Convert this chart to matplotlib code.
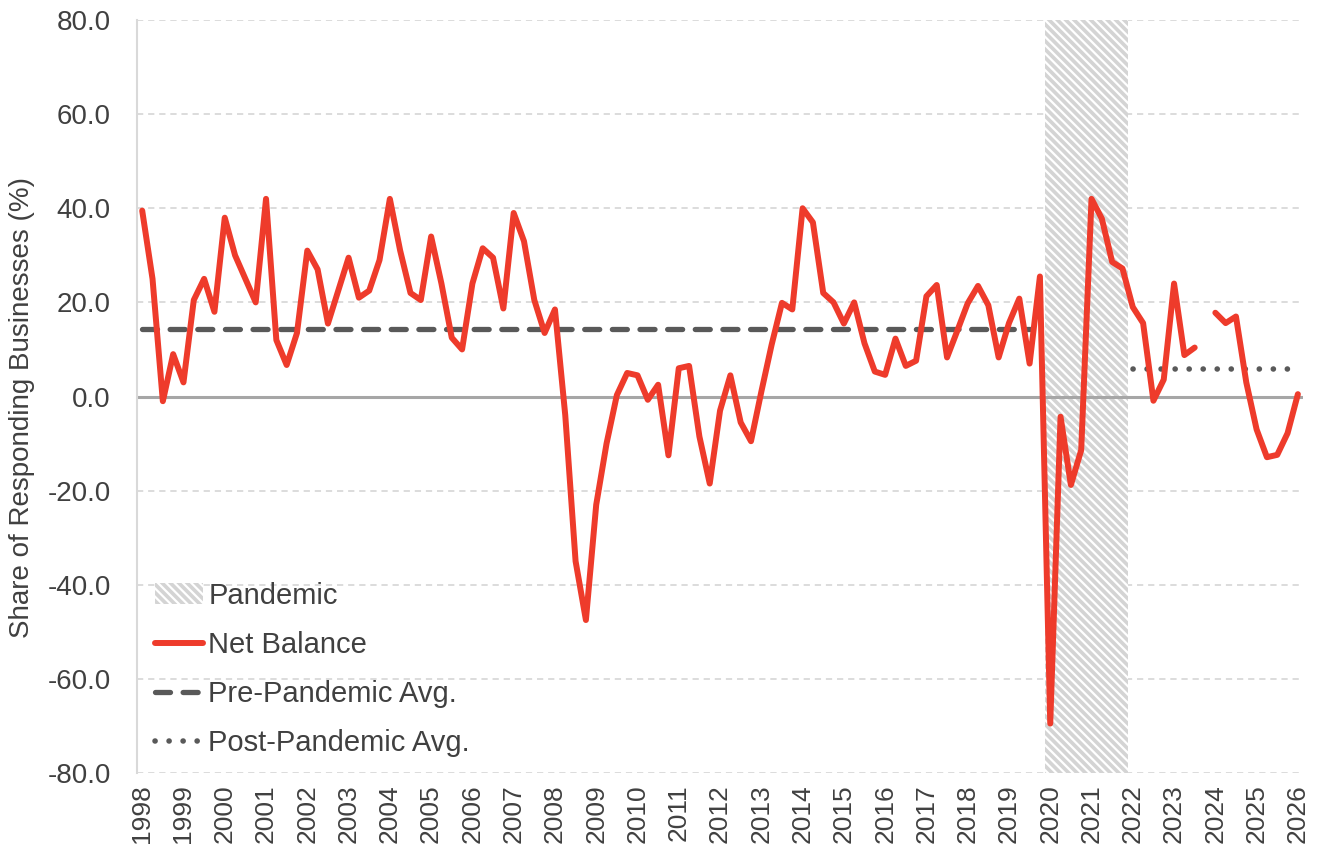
import numpy as np
import matplotlib.pyplot as plt
from matplotlib.patches import Patch
from matplotlib.lines import Line2D

plt.rcParams['font.family'] = ['Liberation Sans', 'DejaVu Sans']
plt.rcParams['hatch.linewidth'] = 1.6
plt.rcParams['lines.scale_dashes'] = False

# quarterly net balance, 1998Q1 - 2026Q1 (2023Q4 missing)
quarters = [f'{y}Q{q}' for y in range(1998, 2027) for q in range(1, 5)][:113]
net_balance = [
    39.5, 25.0, -1.0, 9.0, 3.0, 20.5, 25.0, 18.0,        # 1998-1999
    38.0, 30.0, 25.0, 20.0, 42.0, 12.0, 6.7, 13.5,       # 2000-2001
    31.0, 27.0, 15.5, 22.5, 29.5, 21.0, 22.5, 29.0,      # 2002-2003
    42.0, 31.0, 22.0, 20.5, 34.0, 24.0, 12.5, 10.0,      # 2004-2005
    24.0, 31.5, 29.5, 18.7, 39.0, 33.0, 20.5, 13.5,      # 2006-2007
    18.5, -4.0, -35.0, -47.5, -23.0, -10.0, 0.3, 5.0,    # 2008-2009
    4.5, -0.7, 2.5, -12.5, 6.0, 6.5, -8.5, -18.5,        # 2010-2011
    -3.0, 4.5, -5.5, -9.5, 1.0, 11.0, 19.9, 18.5,        # 2012-2013
    40.0, 37.0, 22.0, 20.0, 15.5, 20.0, 11.3, 5.3,       # 2014-2015
    4.6, 12.3, 6.5, 7.6, 21.3, 23.7, 8.3, 14.0,          # 2016-2017
    19.8, 23.5, 19.4, 8.3, 15.6, 20.8, 7.0, 25.5,        # 2018-2019
    -69.5, -4.3, -18.8, -11.4, 42.0, 37.8, 28.6, 27.2,   # 2020-2021
    19.0, 15.6, -0.9, 3.6, 24.0, 8.8, 10.4, np.nan,      # 2022-2023
    17.8, 15.6, 17.0, 3.0, -7.0, -12.9, -12.4, -7.8,     # 2024-2025
    0.5,                                                 # 2026
]
pre_pandemic_avg = 14.4
post_pandemic_avg = 5.8
pre_period = ('1998Q1', '2019Q3')
pandemic_period = ('2020Q1', '2021Q4')
post_period = ('2022Q1', '2026Q1')
years = list(range(1998, 2027))

red = '#EE3B2B'
dark = '#595959'
txt = '#404040'
hatch = '\\' * 4

x = np.arange(len(quarters))
fig = plt.figure(figsize=(13.19, 8.6), dpi=100)
ax = fig.add_axes([0.1039, 0.1012, 0.884, 0.8755])

ax.set_xlim(-0.5, len(quarters) - 0.5)
ax.set_ylim(-80, 80)
ax.set_yticks(np.arange(-80, 81, 20))
ax.set_yticklabels([f'{v:.1f}' for v in np.arange(-80, 81, 20)])
ax.set_xticks(x[::4])
ax.set_xticklabels([str(y) for y in years], rotation=90)
ax.tick_params(axis='both', length=0, colors=txt)
ax.tick_params(axis='y', labelsize=20, pad=19)
ax.tick_params(axis='x', labelsize=19, pad=8)

ax.yaxis.grid(True, color='#d9d9d9', linewidth=1.3, dashes=(4.5, 3.5), zorder=0)
ax.set_axisbelow(True)
for s in ['top', 'right', 'bottom']:
    ax.spines[s].set_visible(False)
ax.spines['left'].set_color('#d9d9d9')
ax.spines['left'].set_linewidth(1.5)

# pandemic shading
p0 = quarters.index(pandemic_period[0])
p1 = quarters.index(pandemic_period[1])
ax.axvspan(p0 - 0.5, p1 + 0.5, facecolor='#d4d4d4', edgecolor='white',
           hatch=hatch, linewidth=0, zorder=1)

ax.axhline(0, color='#a6a6a6', linewidth=2.2, zorder=2)

# averages
a0, a1 = quarters.index(pre_period[0]), quarters.index(pre_period[1])
pre_x = x[a0:a1 + 1]
ax.plot(pre_x, [pre_pandemic_avg] * len(pre_x), color=dark, linewidth=3.8,
        dashes=(10.8, 9.1), dash_capstyle='round', zorder=3)
b0, b1 = quarters.index(post_period[0]), quarters.index(post_period[1])
post_x = x[b0:b1 + 1]
ax.plot(post_x, [post_pandemic_avg] * len(post_x), color=dark, linewidth=4.0,
        dashes=(0.1, 10.0), dash_capstyle='round', zorder=3)

ax.plot(x, net_balance, color=red, linewidth=4.3, solid_joinstyle='round',
        solid_capstyle='round', zorder=4)

fig.text(22 / 1319, 1 - 408 / 860, 'Share of Responding Businesses (%)',
         rotation=90, ha='center', va='center', fontsize=20, color=txt)

handles = [
    Patch(facecolor='#d4d4d4', edgecolor='white', hatch=hatch, linewidth=0),
    Line2D([], [], color=red, linewidth=4.3, solid_capstyle='round'),
    Line2D([], [], color=dark, linewidth=3.8, dashes=(10.8, 9.1), dash_capstyle='round'),
    Line2D([], [], color=dark, linewidth=4.0, dashes=(0.1, 10.0), dash_capstyle='round'),
]
labels = ['Pandemic', 'Net Balance', 'Pre-Pandemic Avg.', 'Post-Pandemic Avg.']
leg = ax.legend(handles, labels, loc='upper left', bbox_to_anchor=(0.0154, 0.254),
                frameon=False, fontsize=21, handlelength=1.65, handletextpad=0.18,
                labelspacing=0.72, borderpad=0, borderaxespad=0)
for t in leg.get_texts():
    t.set_color(txt)

plt.savefig('out.png', dpi=100)
